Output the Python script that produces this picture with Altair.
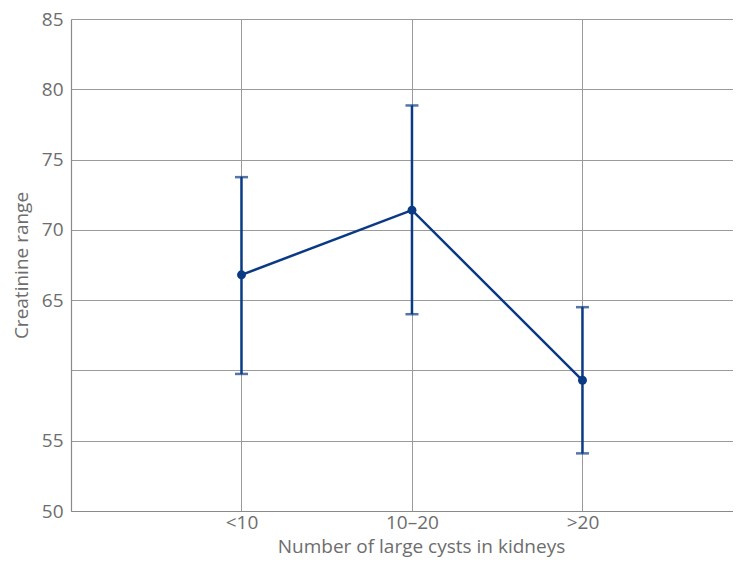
import altair as alt
import pandas as pd
import json

categories = ["<10", "10–20", ">20"]
means = [66.8, 71.4, 59.3]
upper = [73.75, 78.85, 64.5]
lower = [59.75, 64.0, 54.1]
y_tick_labels = [50, 55, 65, 70, 75, 80, 85]
y_grid = [50, 55, 60, 65, 70, 75, 80, 85]

df = pd.DataFrame({
    "cat": categories,
    "idx": [1, 2, 3],
    "mean": means,
    "upper": upper,
    "lower": lower,
})

BLUE = "#0a3a84"
GRAY = "#6d6d6d"
FONT = "Open Sans"
FS = 19

label_arr = json.dumps([""] + categories, ensure_ascii=False)
shown = json.dumps(y_tick_labels)

x_scale = alt.Scale(domain=[0, 3.883], nice=False, zero=False)
y_scale = alt.Scale(domain=[50, 85], nice=False, zero=False)

x_enc = alt.X("idx:Q", scale=x_scale,
              axis=alt.Axis(values=[1, 2, 3], labelExpr=f"{label_arr}[datum.value]",
                            title="Number of large cysts in kidneys",
                            ticks=False, grid=True, gridColor="#9a9a9a", gridWidth=1,
                            domainColor="#8a8a8a", domainWidth=1.2,
                            labelColor=GRAY, labelFont=FONT, labelFontSize=FS,
                            labelPadding=2, titleColor=GRAY, titleFont=FONT,
                            titleFontSize=FS, titleFontWeight="normal", titlePadding=5,
                            titleX=350))
y_enc = alt.Y("mean:Q", scale=y_scale,
              axis=alt.Axis(values=y_grid, labelExpr=f"indexof({shown}, datum.value) >= 0 ? datum.label : ''",
                            title="Creatinine range", ticks=False, grid=True,
                            gridColor="#9a9a9a", gridWidth=1,
                            domainColor="#8a8a8a", domainWidth=1.2,
                            labelColor=GRAY, labelFont=FONT, labelFontSize=FS,
                            labelPadding=8, titleColor=GRAY, titleFont=FONT,
                            titleFontSize=FS, titleFontWeight="normal", titlePadding=10))

base = alt.Chart(df)

line = base.mark_line(color=BLUE, strokeWidth=2.5).encode(x=x_enc, y=y_enc)
pts = base.mark_circle(color=BLUE, size=80, opacity=1).encode(x="idx:Q", y="mean:Q")
bars = base.mark_rule(color=BLUE, strokeWidth=2.5).encode(x="idx:Q", y="lower:Q", y2="upper:Q")
cap_up = base.mark_tick(color=BLUE, thickness=2.5, size=13, orient="horizontal").encode(x="idx:Q", y="upper:Q")
cap_lo = base.mark_tick(color=BLUE, thickness=2.5, size=13, orient="horizontal").encode(x="idx:Q", y="lower:Q")

chart = alt.layer(line, bars, cap_up, cap_lo, pts).properties(
    width=662, height=492,
    autosize=alt.AutoSizeParams(type="none"),
    padding={"left": 63, "top": 11, "right": 0, "bottom": 47},
).configure_view(stroke=None).configure(background="white")

chart.save("out.html", embed_options={"renderer": "svg", "actions": False})
